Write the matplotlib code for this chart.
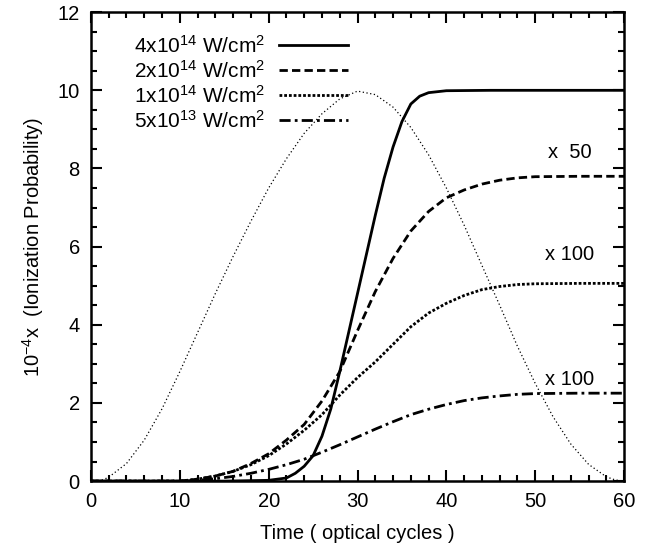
import matplotlib
matplotlib.use("Agg")
import matplotlib.pyplot as plt
from matplotlib.ticker import MultipleLocator

plt.rcParams['font.family'] = ['Liberation Sans', 'DejaVu Sans']
plt.rcParams['mathtext.default'] = 'regular'

# laser envelope (thin dotted)
t_env = [0, 1, 2, 4, 6, 8, 10, 12, 14, 16, 18, 20, 22, 24, 26, 28, 30,
         32, 34, 36, 38, 40, 42, 44, 46, 48, 50, 52, 54, 56, 58, 59, 60]
v_env = [0, 0.0, 0.1, 0.45, 1.05, 1.85, 2.8, 3.8, 4.8, 5.75, 6.65, 7.5, 8.25, 8.9, 9.4, 9.78, 9.98,
         9.89, 9.57, 9.05, 8.35, 7.5, 6.55, 5.52, 4.5, 3.45, 2.5, 1.65, 0.95, 0.43, 0.11, 0.03, 0.0]

# 4x10^14 W/cm^2
t_a = [0, 10, 15, 20, 22, 23, 24, 25, 26, 27, 28, 29, 30, 31, 32, 33, 34, 35, 36, 37, 38, 40, 45, 50, 60]
v_a = [0, 0, 0.0, 0.02, 0.08, 0.2, 0.38, 0.65, 1.15, 1.85, 2.8, 3.8, 4.8, 5.8, 6.8, 7.75, 8.55, 9.2,
       9.65, 9.85, 9.94, 9.99, 10.0, 10.0, 10.0]

# 2x10^14 W/cm^2 (x50)
t_b = [0, 10, 12, 14, 16, 18, 20, 22, 24, 26, 28, 30, 32, 34, 36, 38, 40, 42, 44, 46, 48, 50, 55, 60]
v_b = [0, 0.0, 0.05, 0.13, 0.25, 0.45, 0.7, 1.05, 1.45, 2.05, 2.8, 3.85, 4.85, 5.7, 6.4, 6.9, 7.25,
       7.45, 7.6, 7.7, 7.76, 7.79, 7.8, 7.8]

# 1x10^14 W/cm^2 (x100)
t_c = [0, 10, 12, 14, 16, 18, 20, 22, 24, 26, 28, 30, 32, 34, 36, 38, 40, 42, 44, 46, 48, 50, 55, 60]
v_c = [0, 0.0, 0.05, 0.13, 0.25, 0.42, 0.65, 0.95, 1.3, 1.7, 2.2, 2.65, 3.05, 3.5, 3.95, 4.3, 4.55,
       4.75, 4.9, 4.98, 5.03, 5.05, 5.06, 5.06]

# 5x10^13 W/cm^2 (x100)
t_d = [0, 10, 12, 14, 16, 18, 20, 22, 24, 26, 28, 30, 32, 34, 36, 38, 40, 42, 44, 46, 48, 50, 55, 60]
v_d = [0, 0.0, 0.02, 0.06, 0.12, 0.2, 0.3, 0.42, 0.56, 0.74, 0.93, 1.13, 1.33, 1.52, 1.7, 1.84, 1.96,
       2.06, 2.13, 2.18, 2.22, 2.24, 2.25, 2.25]

labels = ['4x10$^{14}$ W/cm$^2$', '2x10$^{14}$ W/cm$^2$', '1x10$^{14}$ W/cm$^2$', '5x10$^{13}$ W/cm$^2$']
scale_text = ['x  50', 'x 100', 'x 100']
scale_pos = [(53.9, 8.4), (53.9, 5.8), (53.9, 2.6)]

fig = plt.figure(figsize=(6.59, 5.53), dpi=100)
ax = fig.add_axes([0.138, 0.130, 0.809, 0.848])

ax.plot(t_env, v_env, color='black', lw=0.9, ls=(0, (1, 2)))
ax.plot(t_a, v_a, color='black', lw=2.0, ls='-', label=labels[0])
ax.plot(t_b, v_b, color='black', lw=2.0, ls=(0, (3, 1.5)), label=labels[1])
ax.plot(t_c, v_c, color='black', lw=2.0, ls=(0, (1, 0.7)), label=labels[2])
ax.plot(t_d, v_d, color='black', lw=2.0, ls=(0, (4, 1.5, 1, 1.5)), label=labels[3])

for s, (x, y) in zip(scale_text, scale_pos):
    ax.text(x, y, s, fontsize=14.5, ha='center', va='center')

ax.set_xlim(0, 60)
ax.set_ylim(0, 12)
ax.xaxis.set_major_locator(MultipleLocator(10))
ax.xaxis.set_minor_locator(MultipleLocator(2))
ax.yaxis.set_major_locator(MultipleLocator(2))
ax.yaxis.set_minor_locator(MultipleLocator(0.5))
ax.tick_params(which='both', direction='in', top=True, right=True, width=1.5, labelsize=14.5)
ax.tick_params(which='major', length=8, pad=8)
ax.tick_params(which='minor', length=4)
for sp in ax.spines.values():
    sp.set_linewidth(1.8)

ax.set_xlabel('Time ( optical cycles )', fontsize=14.5, labelpad=9)
ax.set_ylabel('10$^{-4}$x  (Ionization Probability)', fontsize=14.5, labelpad=8)

ax.legend(loc='upper left', bbox_to_anchor=(0.065, 0.97), frameon=False, markerfirst=False,
          fontsize=15, handlelength=3.3, handletextpad=0.7, labelspacing=0.15,
          borderaxespad=0)

fig.savefig('out.png', dpi=100)
